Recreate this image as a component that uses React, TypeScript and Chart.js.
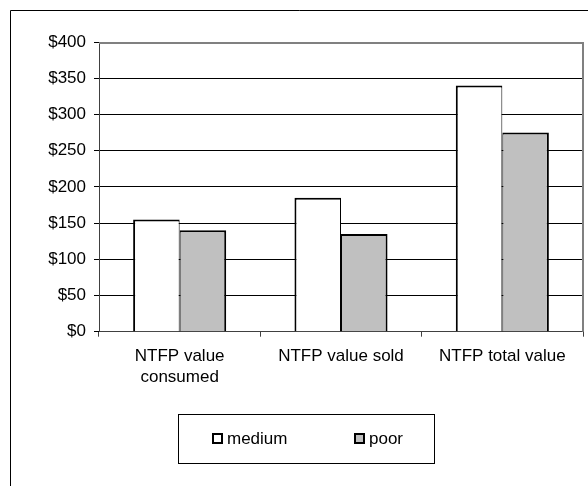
import React, { useEffect, useRef } from 'react';
import { Chart, registerables } from 'chart.js';

Chart.register(...registerables);

const categories: (string | string[])[] = [['NTFP value', 'consumed'], 'NTFP value sold', 'NTFP total value'];
const seriesNames = ['medium', 'poor'];
const mediumValues = [155, 185, 340];
const poorValues = [140, 135, 275];
const yMin = 0;
const yMax = 400;
const yStep = 50;

const FONT = "'Liberation Sans', Arial, sans-serif";
const FONT_SIZE = 17;

const framePlugin = {
  id: 'frame',
  afterDraw(chart: any) {
    const { ctx, chartArea } = chart;
    ctx.save();
    // outer chart border (extends past the page edges)
    ctx.strokeStyle = '#000';
    ctx.lineWidth = 1;
    ctx.beginPath();
    ctx.moveTo(10.5, 486);
    ctx.lineTo(10.5, 10.5);
    ctx.lineTo(588, 10.5);
    ctx.stroke();
    // plot area border top & right (grey)
    ctx.strokeStyle = '#808080';
    ctx.lineWidth = 2;
    ctx.beginPath();
    ctx.moveTo(chartArea.left, chartArea.top + 1);
    ctx.lineTo(chartArea.right, chartArea.top + 1);
    ctx.lineTo(chartArea.right, chartArea.bottom);
    ctx.stroke();
    // legend
    ctx.strokeStyle = '#000';
    ctx.lineWidth = 1;
    ctx.strokeRect(178.5, 414.5, 256, 49);
    const itemX = [212, 354];
    chart.data.datasets.forEach((ds: any, i: number) => {
      const x = itemX[i];
      ctx.fillStyle = ds.backgroundColor;
      ctx.fillRect(x, 433, 11, 11);
      ctx.strokeStyle = '#000';
      ctx.lineWidth = 2;
      ctx.strokeRect(x + 1, 434, 9, 9);
      ctx.fillStyle = '#000';
      ctx.font = `${FONT_SIZE}px ${FONT}`;
      ctx.textBaseline = 'middle';
      ctx.textAlign = 'left';
      ctx.fillText(ds.label, x + 15, 439);
    });
    ctx.restore();
  },
};

export default function App() {
  const ref = useRef<HTMLCanvasElement>(null);
  useEffect(() => {
    const chart = new Chart(ref.current as HTMLCanvasElement, {
      type: 'bar',
      data: {
        labels: categories,
        datasets: [
          {
            label: seriesNames[0],
            data: mediumValues,
            backgroundColor: '#ffffff',
            borderColor: '#000000',
            borderWidth: { top: 2, left: 2, right: 1, bottom: 0 },
            borderSkipped: 'start',
          },
          {
            label: seriesNames[1],
            data: poorValues,
            backgroundColor: '#c0c0c0',
            borderColor: '#000000',
            borderWidth: { top: 2, left: 1, right: 2, bottom: 0 },
            borderSkipped: 'start',
          },
        ],
      },
      options: {
        responsive: false,
        animation: false,
        devicePixelRatio: 1,
        layout: { padding: { top: 42, right: 5, left: 0, bottom: 0 } },
        datasets: { bar: { categoryPercentage: 0.577, barPercentage: 1 } },
        plugins: { legend: { display: false }, tooltip: { enabled: false } },
        scales: {
          x: {
            afterFit: (scale: any) => {
              scale.height = 154.3;
            },
            grid: {
              drawOnChartArea: false,
              drawTicks: true,
              tickLength: 5,
              color: '#404040',
              offset: true,
            },
            border: { display: true, color: '#404040', width: 1 },
            ticks: {
              color: '#000',
              padding: 9,
              maxRotation: 0,
              autoSkip: false,
              font: { family: FONT, size: FONT_SIZE, lineHeight: 1.25 },
            },
          },
          y: {
            min: yMin,
            max: yMax,
            afterFit: (scale: any) => {
              scale.width = 99;
            },
            grid: { color: '#000', lineWidth: 1, drawTicks: true, tickLength: 5 },
            border: { display: true, color: '#404040', width: 1 },
            ticks: {
              stepSize: yStep,
              color: '#000',
              padding: 8,
              font: { family: FONT, size: FONT_SIZE },
              callback: (v: any) => '$' + v,
            },
          },
        },
      },
      plugins: [framePlugin],
    });
    return () => chart.destroy();
  }, []);
  return (
    <div style={{ position: 'fixed', left: 0, top: 0, width: 588, height: 486, background: '#fff' }}>
      <canvas ref={ref} width={588} height={486} style={{ display: 'block' }} />
    </div>
  );
}
